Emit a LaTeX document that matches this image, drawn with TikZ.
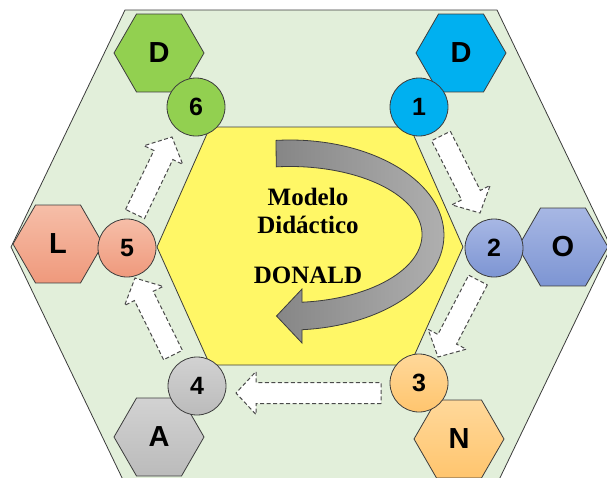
\documentclass[tikz,border=0pt]{standalone}
\usepackage{fontspec}
\setmainfont{Liberation Serif}
\newfontfamily\lettersf{Liberation Sans}
\usetikzlibrary{calc,shapes.geometric}

\definecolor{panel}{HTML}{E2EFDA}
\definecolor{core}{HTML}{FFF766}
\definecolor{lineC}{HTML}{3C3C3C}
\definecolor{dashC}{HTML}{4A4A4A}
\definecolor{arrL}{HTML}{868686}
\definecolor{arrR}{HTML}{B0B0B0}
\definecolor{cGreen}{HTML}{92D050}
\definecolor{cBlue}{HTML}{00B0F0}
\definecolor{cPurT}{HTML}{A7B7E4}
\definecolor{cPurB}{HTML}{7D95D3}
\definecolor{cOrT}{HTML}{FFD89A}
\definecolor{cOrB}{HTML}{FFC56E}
\definecolor{cGrT}{HTML}{D2D2D2}
\definecolor{cGrB}{HTML}{BBBBBB}
\definecolor{cSaT}{HTML}{F6BEA8}
\definecolor{cSaB}{HTML}{EF997C}

% block arrow from tail #1 to tip #2
\newcommand\blockarr[2]{%
  \coordinate (#1-b) at ($(#2)!20pt!(#1)$);
  \draw[dasharr]
    ($(#1)!10.5pt!90:(#2)$) -- ($(#1-b)!10.5pt!-90:(#1)$)
    -- ($(#1-b)!21.5pt!-90:(#1)$) -- (#2)
    -- ($(#1-b)!21.5pt!90:(#1)$) -- ($(#1-b)!10.5pt!90:(#1)$)
    -- ($(#1)!10.5pt!-90:(#2)$) -- cycle;
}

\begin{document}
\begin{tikzpicture}[x=1pt,y=-1pt,
  outline/.style={draw=lineC, line width=0.8pt},
  hexnode/.style={regular polygon, regular polygon sides=6, minimum size=90pt,
    inner sep=0pt, outline, font=\lettersf\bfseries\fontsize{29}{31}\selectfont},
  numnode/.style={circle, minimum size=58pt, inner sep=0pt, outline,
    font=\lettersf\bfseries\fontsize{25}{27}\selectfont},
  dasharr/.style={draw=dashC, fill=white, dash pattern=on 4pt off 2.5pt, line width=1pt},
  bigarr/.style={outline, left color=arrL, right color=arrR},
  maintext/.style={font=\bfseries\fontsize{25}{28}\selectfont, anchor=base}]

\useasboundingbox (0,0) rectangle (607,477);
\clip (0,0) rectangle (607,477);

% outer panel
\draw[outline, fill=panel] (125,10) -- (497,10) -- (611,247) -- (497,484)
  -- (125,484) -- (11,247) -- cycle;

% central hexagon
\draw[outline, fill=core] (157,247) -- (210,127) -- (410,127) -- (463,247)
  -- (410,365) -- (210,365) -- cycle;

% curved cycle arrow
\path[bigarr] (276,140.4)
  arc[start angle=-95.2, end angle=85.5, x radius=154, y radius=95]
  -- (302,343) -- (276.5,316) -- (302,289) -- (302,302.2)
  arc[start angle=84.8, end angle=-96, x radius=132, y radius=68] -- cycle;

\node[maintext] (t1) at (308,205) {Modelo};
\node[maintext] (t2) at (308,233) {Didáctico};
\node[maintext] (t3) at (308,283) {DONALD};

% step arrows
\coordinate (a12) at (441,136);  \coordinate (p12) at (480,213);
\coordinate (a23) at (478,280);  \coordinate (p23) at (438,357);
\coordinate (a34) at (381,393);  \coordinate (p34) at (236,393);
\coordinate (a45) at (173,355);  \coordinate (p45) at (135,278);
\coordinate (a56) at (135,214);  \coordinate (p56) at (172,137);
\blockarr{a12}{p12}
\blockarr{a23}{p23}
\blockarr{a34}{p34}
\blockarr{a45}{p45}
\blockarr{a56}{p56}

% letter hexagons
\node[hexnode, fill=cBlue] (hD1) at (461,53) {D};
\node[hexnode, top color=cPurT, bottom color=cPurB] (hO) at (563,247) {O};
\node[hexnode, top color=cOrT, bottom color=cOrB] (hN) at (459,439) {N};
\node[hexnode, top color=cGrT, bottom color=cGrB] (hA) at (159,437) {A};
\node[hexnode, top color=cSaT, bottom color=cSaB] (hL) at (58,244) {L};
\node[hexnode, fill=cGreen] (hD6) at (159,53) {D};

% numbered circles
\node[numnode, fill=cBlue] (c1) at (419,107) {1};
\node[numnode, top color=cPurT, bottom color=cPurB] (c2) at (494,248) {2};
\node[numnode, top color=cOrT, bottom color=cOrB] (c3) at (419,383) {3};
\node[numnode, top color=cGrT, bottom color=cGrB] (c4) at (197,386) {4};
\node[numnode, top color=cSaT, bottom color=cSaB] (c5) at (127,248) {5};
\node[numnode, fill=cGreen] (c6) at (196,107) {6};

\end{tikzpicture}
\end{document}
